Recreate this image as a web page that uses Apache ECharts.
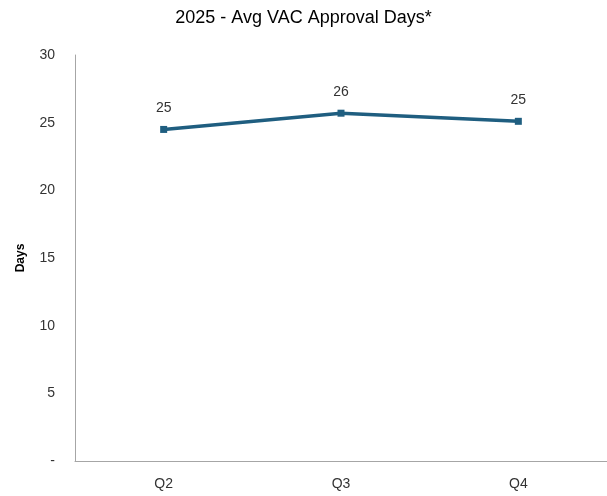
<!DOCTYPE html>
<html>
<head>
<meta charset="utf-8">
<script src="https://cdn.jsdelivr.net/npm/echarts@6/dist/echarts.min.js"></script>
<style>
  html, body { margin: 0; padding: 0; background: #fff; }
  #chart { width: 607px; height: 496px; }
</style>
</head>
<body>
<div id="chart"></div>
<script>
// data
var quarters = ['Q2', 'Q3', 'Q4'];
var avgDays = [24.5, 25.7, 25.1];
var yTicks = [0, 5, 10, 15, 20, 25, 30];

var chart = echarts.init(document.getElementById('chart'));
var option = {
    animation: false,
    title: {
        text: '2025 - Avg VAC Approval Days*',
        left: 'center',
        top: 4,
        textStyle: {
            color: '#000',
            fontSize: 18,
            fontWeight: 'normal',
            fontFamily: 'Liberation Sans, Arial, sans-serif'
        }
    },
    grid: {
        left: 75,
        right: 0,
        top: 55,
        bottom: 35
    },
    xAxis: {
        type: 'category',
        data: quarters,
        axisTick: { show: false },
        axisLine: { lineStyle: { color: '#a6a6a6', width: 1 } },
        axisLabel: {
            color: '#333',
            fontSize: 14,
            margin: 16,
            fontFamily: 'Liberation Sans, Arial, sans-serif'
        }
    },
    yAxis: {
        type: 'value',
        min: yTicks[0],
        max: yTicks[yTicks.length - 1],
        interval: 5,
        name: 'Days',
        nameLocation: 'middle',
        nameGap: 48,
        nameTextStyle: {
            color: '#000',
            fontSize: 12,
            fontWeight: 'bold',
            fontFamily: 'Liberation Sans, Arial, sans-serif'
        },
        axisLine: { show: true, lineStyle: { color: '#a6a6a6', width: 1 } },
        axisTick: { show: false },
        splitLine: { show: false },
        axisLabel: {
            color: '#333',
            fontSize: 14,
            margin: 20,
            fontFamily: 'Liberation Sans, Arial, sans-serif',
            formatter: function (v) { return v === 0 ? '-' : v; }
        }
    },
    series: [{
        type: 'line',
        data: avgDays,
        symbol: 'rect',
        symbolSize: 7,
        lineStyle: { color: '#1f5e80', width: 3.5 },
        itemStyle: { color: '#1f5e80' },
        label: {
            show: true,
            position: 'top',
            distance: 11,
            color: '#333',
            fontSize: 14,
            fontFamily: 'Liberation Sans, Arial, sans-serif',
            formatter: function (p) { return Math.round(p.value); }
        }
    }]
};
chart.setOption(option);
window.addEventListener('resize', function () {
    chart.resize();
});
</script>
</body>
</html>
